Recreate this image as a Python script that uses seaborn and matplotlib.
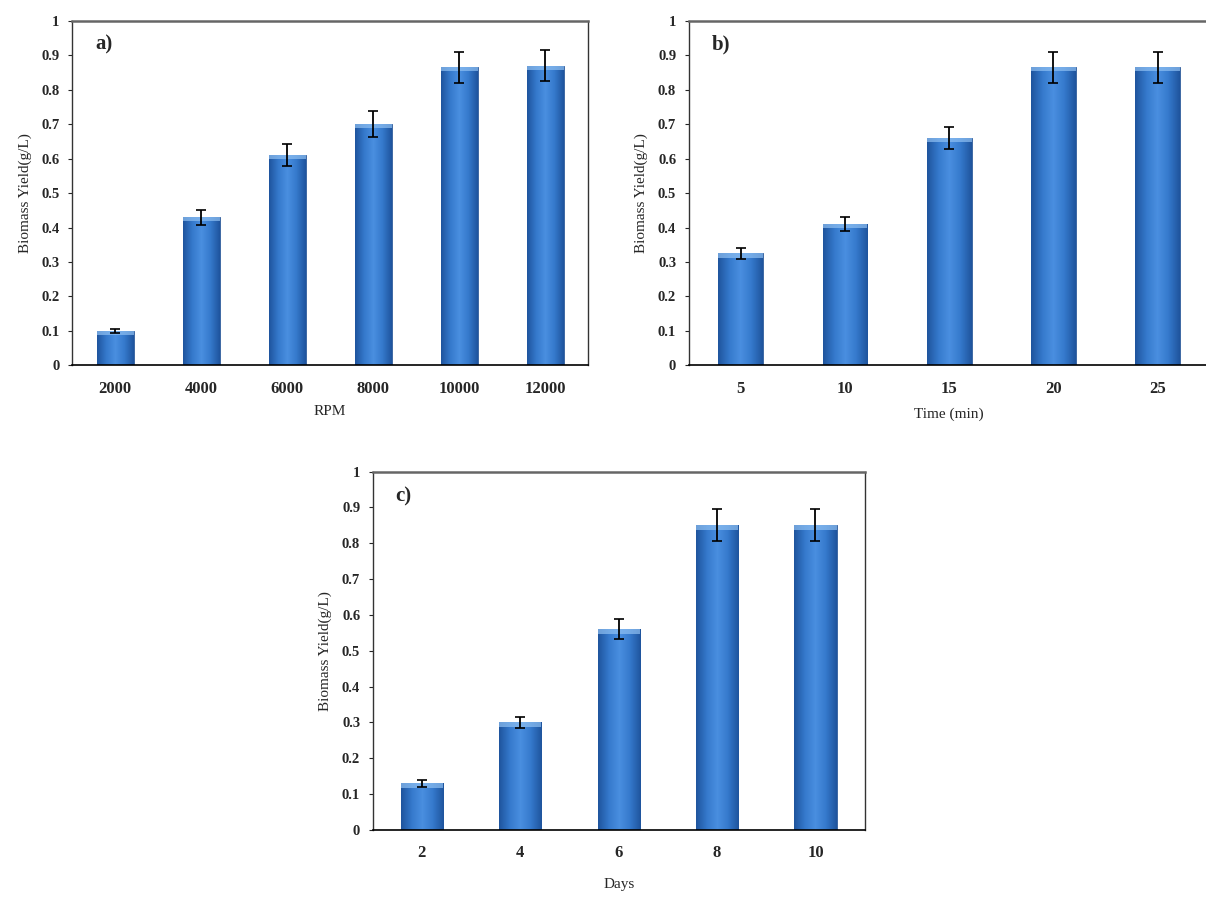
import numpy as np
import pandas as pd
import matplotlib
matplotlib.use("Agg")
import matplotlib.pyplot as plt
import seaborn as sns
from matplotlib.colors import LinearSegmentedColormap

# ── Data ─────────────────────────────────────────────────────────────────────
rpm_labels = ["2000", "4000", "6000", "8000", "10000", "12000"]
rpm_yield = [0.10, 0.43, 0.61, 0.70, 0.865, 0.87]
rpm_err = [0.005, 0.022, 0.032, 0.038, 0.045, 0.045]

time_labels = ["5", "10", "15", "20", "25"]
time_yield = [0.325, 0.41, 0.66, 0.865, 0.865]
time_err = [0.015, 0.021, 0.033, 0.045, 0.045]

day_labels = ["2", "4", "6", "8", "10"]
day_yield = [0.13, 0.30, 0.56, 0.85, 0.85]
day_err = [0.01, 0.015, 0.028, 0.045, 0.045]

sns.set_theme(style="white")
plt.rcParams["font.family"] = ["Liberation Serif", "DejaVu Serif"]

# Excel-like cylinder shading
shade = LinearSegmentedColormap.from_list(
    "bar", ["#1f559e", "#3579cc", "#4a8fe0", "#3579cc", "#1f559e"])


def shade_bars(ax):
    grad = np.linspace(0, 1, 64).reshape(1, -1)
    for p in ax.patches:
        x0, y0 = p.get_x(), p.get_y()
        w, h = p.get_width(), p.get_height()
        im = ax.imshow(grad, cmap=shade, aspect="auto",
                       extent=(x0, x0 + w, y0, y0 + h), zorder=2)
        im.set_clip_path(p)
        # light band at the top of each bar
        ax.fill_between([x0, x0 + w], y0 + h - 0.012, y0 + h,
                        color="#8fc0f2", alpha=0.7, zorder=2.5, lw=0)
        p.set_facecolor("none")
        p.set_edgecolor("#1d4f94")
        p.set_linewidth(0.6)


def panel(ax, labels, values, errs, xlabel, tag, xpad=10, right_spine=True):
    df = pd.DataFrame({"x": labels, "y": values})
    sns.barplot(data=df, x="x", y="y", ax=ax, color="#3579cc",
                width=0.43, errorbar=None, order=labels)
    shade_bars(ax)
    xs = [p.get_x() + p.get_width() / 2 for p in ax.patches]
    ax.errorbar(xs, values, yerr=errs, fmt="none", ecolor="black",
                elinewidth=1.3, capsize=3.5, capthick=1.2, zorder=4)
    ax.set_xlim(-0.5, len(labels) - 0.5)
    ax.set_ylim(0, 1)
    ax.set_yticks(np.arange(0, 1.01, 0.1))
    ax.set_yticklabels(["0"] + [f"{v:.1f}" for v in np.arange(0.1, 0.95, 0.1)] + ["1"])
    ax.set_xlabel(xlabel, fontsize=11, labelpad=xpad)
    ax.set_ylabel("Biomass Yield(g/L)", fontsize=11, labelpad=7)
    ax.tick_params(axis="y", direction="out", length=3, width=0.8,
                   left=True, labelsize=10.5, pad=6)
    ax.tick_params(axis="x", length=0, labelsize=12, pad=11)
    for lab in ax.get_xticklabels() + ax.get_yticklabels():
        lab.set_fontweight("bold")
    for s in ax.spines.values():
        s.set_color("#333333")
        s.set_linewidth(1.0)
    ax.spines["top"].set_color("#666666")
    ax.spines["top"].set_linewidth(1.8)
    ax.spines["bottom"].set_color("black")
    ax.spines["bottom"].set_linewidth(1.2)
    if not right_spine:
        ax.spines["right"].set_visible(False)
    ax.text(0.045, 0.93, tag, transform=ax.transAxes, fontsize=15,
            fontweight="bold", va="center", ha="left")


fig = plt.figure(figsize=(12.06, 9), dpi=100)
ax_a = fig.add_axes([0.0597, 0.594, 0.428, 0.383])
ax_b = fig.add_axes([0.571, 0.594, 0.432, 0.383])
ax_c = fig.add_axes([0.309, 0.078, 0.408, 0.398])

panel(ax_a, rpm_labels, rpm_yield, rpm_err, "RPM", "a)", xpad=6)
panel(ax_b, time_labels, time_yield, time_err, "Time (min)", "b)", xpad=8,
      right_spine=False)
panel(ax_c, day_labels, day_yield, day_err, "Days", "c)", xpad=12)

fig.savefig("out.png", dpi=100)
